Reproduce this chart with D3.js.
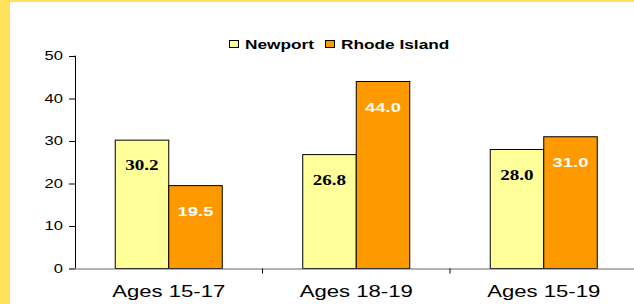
<!DOCTYPE html>
<html><head><meta charset="utf-8">
<script src="https://cdn.jsdelivr.net/npm/d3@7"></script>
<style>html,body{margin:0;padding:0;background:#fff;}svg{display:block;}</style>
</head><body>
<svg id="c" width="634" height="304"></svg>
<script>
const categories = ["Ages 15-17", "Ages 18-19", "Ages 15-19"];
const seriesNames = ["Newport", "Rhode Island"];
const newport = [30.2, 26.8, 28.0];
const rhodeIsland = [19.5, 44.0, 31.0];
const yTicks = [0, 10, 20, 30, 40, 50];
const colors = ["#FFFF99", "#FF9900"];

(function () {
const svg = d3.select("#c");
function stretch(sel, f) {
  sel.each(function () {
    const w = this.getComputedTextLength();
    d3.select(this).attr("textLength", w * f).attr("lengthAdjust", "spacingAndGlyphs");
  });
}

// yellow frame
svg.append("rect").attr("x", 0).attr("y", 0).attr("width", 634).attr("height", 2).attr("fill", "#FFE15A");
svg.append("rect").attr("x", 0).attr("y", 0).attr("width", 10).attr("height", 304).attr("fill", "#FFE15A");

const pLeft = 75, pRight = 637.5, pTop = 56, pBottom = 268.5;
const x0 = d3.scaleBand().domain(categories).range([pLeft, pRight]).paddingInner(0).paddingOuter(0);
const y = d3.scaleLinear().domain([0, 50]).range([pBottom, pTop]);
const bw = 53.5;
const x1 = d3.scaleBand().domain(seriesNames).range([0, bw * 2]);

const data = categories.map((c, i) => ({ cat: c, vals: [newport[i], rhodeIsland[i]] }));

// bars
const g = svg.append("g");
data.forEach(d => {
  const cx = x0(d.cat) + x0.bandwidth() / 2 - bw;
  d.vals.forEach((v, j) => {
    g.append("rect")
      .attr("x", cx + x1(seriesNames[j]))
      .attr("y", y(v))
      .attr("width", x1.bandwidth())
      .attr("height", y(0) - y(v))
      .attr("fill", colors[j])
      .attr("stroke", "#000").attr("stroke-width", 1);
    const t = g.append("text")
      .attr("x", cx + x1(seriesNames[j]) + x1.bandwidth() / 2)
      .attr("y", y(v) + 30)
      .attr("text-anchor", "middle")
      .attr("font-weight", "bold")
      .attr("font-size", j === 0 ? "14px" : "13.5px")
      .attr("font-family", j === 0 ? "'Liberation Serif', 'Times New Roman', serif" : "'Liberation Sans', Arial, sans-serif")
      .attr("fill", j === 0 ? "#000" : "#fff")
      .text(v.toFixed(1));
    stretch(t, 1.36);
  });
});

// y axis
const yAxis = svg.append("g").attr("transform", `translate(${pLeft},0)`)
  .call(d3.axisLeft(y).tickValues(yTicks).tickSize(6).tickFormat(d3.format("d")));
yAxis.select(".domain").attr("stroke", "#000").attr("d", `M-0.5,${pTop}H0.5V${pBottom}`);
yAxis.selectAll(".tick line").attr("stroke", "#000");
yAxis.selectAll(".tick text").attr("font-family", "'Liberation Sans', Arial, sans-serif")
  .attr("font-size", "12px").attr("fill", "#000").attr("x", -12).call(stretch, 1.38);

// x axis
const xAxis = svg.append("g").attr("transform", `translate(0,${pBottom})`)
  .call(d3.axisBottom(x0).tickSize(0).tickPadding(16));
xAxis.select(".domain").attr("stroke", "#666").attr("d", `M${pLeft - 6},0.5H634`);
xAxis.selectAll(".tick text").attr("font-family", "'Liberation Sans', Arial, sans-serif")
  .attr("font-size", "17px").attr("fill", "#000").call(stretch, 1.3);
// between-category ticks
categories.slice(1).forEach(c => {
  xAxis.append("line").attr("x1", x0(c)).attr("x2", x0(c)).attr("y1", 0).attr("y2", 5).attr("stroke", "#000");
});

// legend
const leg = svg.append("g");
const legItems = [{ name: seriesNames[0], x: 229 }, { name: seriesNames[1], x: 325 }];
legItems.forEach((it, j) => {
  leg.append("rect").attr("x", it.x + 0.5).attr("y", 40.5).attr("width", 9).attr("height", 7)
    .attr("fill", colors[j]).attr("stroke", "#000");
  const t = leg.append("text").attr("x", it.x + 16).attr("y", 48.5)
    .attr("font-family", "'Liberation Sans', Arial, sans-serif").attr("font-weight", "bold")
    .attr("font-size", "12.5px").attr("fill", "#000").text(it.name);
  stretch(t, 1.38);
});
})();
</script>
</body></html>
